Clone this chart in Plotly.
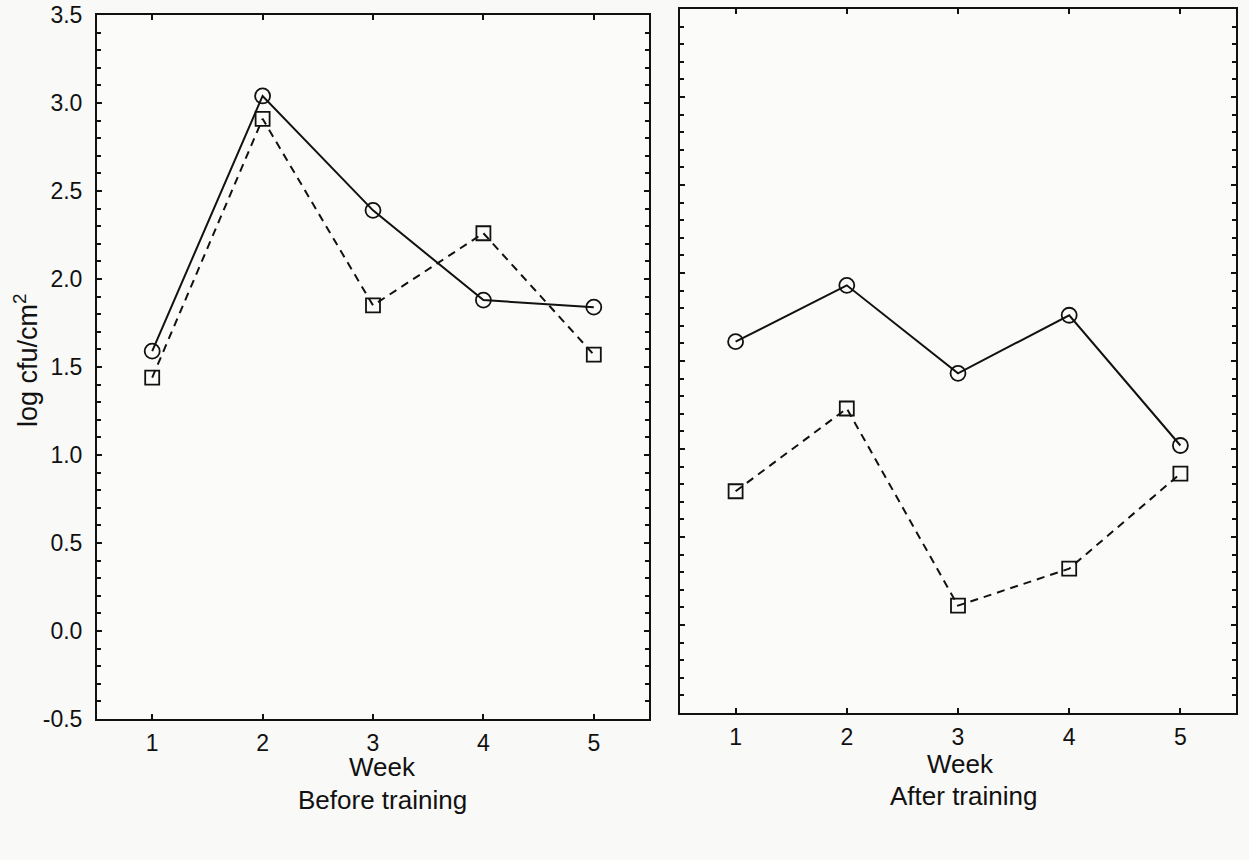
import plotly.graph_objects as go

weeks = [1, 2, 3, 4, 5]
before_circle = [1.59, 3.04, 2.39, 1.88, 1.84]
before_square = [1.44, 2.91, 1.85, 2.26, 1.57]
after_circle = [1.61, 1.93, 1.43, 1.76, 1.02]
after_square = [0.76, 1.23, 0.11, 0.32, 0.86]
y_ticks = [-0.5, 0.0, 0.5, 1.0, 1.5, 2.0, 2.5, 3.0, 3.5]
y_ticklabels = ["-0.5", "0.0", "0.5", "1.0", "1.5", "2.0", "2.5", "3.0", "3.5"]

W, H = 1249, 860
FONT = "Liberation Sans, Arial, sans-serif"

fig = go.Figure()

def add_pair(circ, sq, xa, ya):
    fig.add_trace(go.Scatter(x=weeks, y=circ, xaxis=xa, yaxis=ya, mode="lines+markers",
                             line=dict(color="#111", width=2),
                             marker=dict(symbol="circle-open", size=15, color="#111", line=dict(width=1.8)),
                             showlegend=False))
    fig.add_trace(go.Scatter(x=weeks, y=sq, xaxis=xa, yaxis=ya, mode="lines+markers",
                             line=dict(color="#111", width=2, dash="8px,6px"),
                             marker=dict(symbol="square-open", size=14, color="#111", line=dict(width=1.8)),
                             showlegend=False))

add_pair(before_circle, before_square, "x", "y")
add_pair(after_circle, after_square, "x2", "y2")

xd1 = [97 / W, 649 / W]
xd2 = [680 / W, 1236 / W]
yd1 = [1 - 719 / H, 1 - 15 / H]
yd2 = [1 - 713 / H, 1 - 9 / H]

xcommon = dict(range=[0.5, 5.5], tickvals=weeks, ticks="inside", ticklen=5, tickwidth=1.5,
               tickcolor="#111", showline=True, linecolor="#111", linewidth=2, mirror="allticks",
               showgrid=False, zeroline=False, automargin=False,
               tickfont=dict(family=FONT, size=23, color="#111"), ticklabelstandoff=2)
ycommon = dict(range=[-0.5, 3.5], tickvals=y_ticks, ticks="inside", ticklen=5, tickwidth=1.5,
               tickcolor="#111", showline=True, linecolor="#111", linewidth=2, mirror="allticks",
               showgrid=False, zeroline=False, automargin=False,
               tickfont=dict(family=FONT, size=23, color="#111"),
               minor=dict(dtick=0.1, tick0=0, ticks="inside", ticklen=4, tickwidth=1.5, tickcolor="#111"))

fig.update_layout(
    width=W, height=H, margin=dict(l=0, r=0, t=0, b=0),
    paper_bgcolor="#f9f9f8", plot_bgcolor="#fbfbfa",
    xaxis=dict(domain=xd1, anchor="y", **xcommon),
    yaxis=dict(domain=yd1, anchor="x", ticktext=y_ticklabels, ticklabelstandoff=8, **ycommon),
    xaxis2=dict(domain=xd2, anchor="y2", **xcommon),
    yaxis2=dict(domain=yd2, anchor="x2", showticklabels=False, **ycommon),
)

ann_font = dict(family=FONT, size=26, color="#111")
annotations = [
    dict(text="Week", x=382 / W, y=1 - 767 / H),
    dict(text="Before training", x=382 / W, y=1 - 800 / H),
    dict(text="Week", x=960 / W, y=1 - 764 / H),
    dict(text="After training", x=963 / W, y=1 - 796 / H),
]
for a in annotations:
    fig.add_annotation(xref="paper", yref="paper", xanchor="center", yanchor="middle",
                       showarrow=False, font=ann_font, **a)
fig.add_annotation(text="log cfu/cm<sup>2</sup>", xref="paper", yref="paper", x=26 / W, y=1 - 360 / H,
                   xanchor="center", yanchor="middle", textangle=-90, showarrow=False,
                   font=dict(family=FONT, size=27, color="#111"))

fig.write_html("out.html")
